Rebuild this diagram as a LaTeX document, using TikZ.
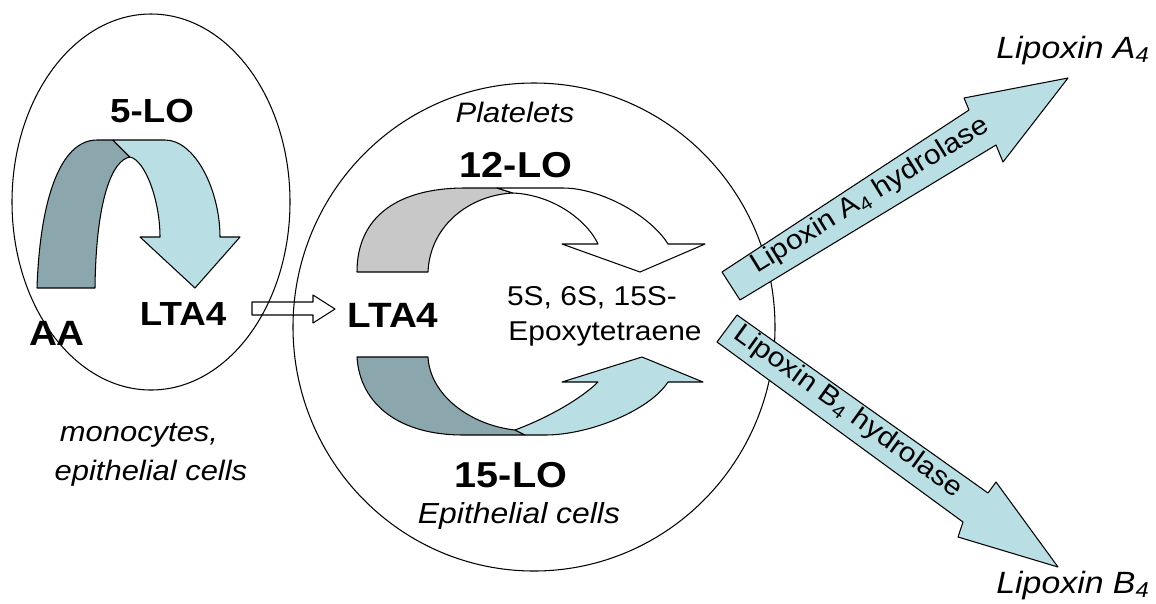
\documentclass[tikz,border=0pt]{standalone}
\usepackage{fontspec}
\setmainfont[FakeStretch=1.1]{Liberation Sans}
\usepackage{tikz}
\usetikzlibrary{positioning}

\definecolor{loDark}{RGB}{139,167,173}
\definecolor{loLight}{RGB}{185,223,228}
\definecolor{loGray}{RGB}{200,200,200}
\newcommand{\txtsize}[1]{\fontsize{#1}{#1}\selectfont}

\tikzset{
  outline/.style={draw=black, line width=0.6pt, line join=round},
  lbl/.style={inner sep=0pt, anchor=base},
  enzyme/.style={lbl, font=\txtsize{20pt}\bfseries},
  celltxt/.style={lbl, font=\txtsize{16pt}\itshape},
  product/.style={lbl, font=\txtsize{17.5pt}\itshape},
  hydro/.style={inner sep=0pt, font=\txtsize{15.5pt}}
}

\begin{document}
\begin{tikzpicture}[x=0.02cm, y=-0.02cm]
\useasboundingbox (0,0) rectangle (1156,603);

% hollow arrow LTA4 -> LTA4
\draw[outline, fill=white] (252,302) -- (313,302) -- (313,295) -- (335,309)
  -- (313,323) -- (313,315) -- (252,315) -- cycle;

% cell outlines
\draw[outline] (151,202) ellipse [x radius=139, y radius=188];
\draw[outline] (534,327) ellipse [x radius=241, y radius=244];

% 5-LO curved arrow
\draw[outline, fill=loDark] (37,288) .. controls (40,200) and (60,140) .. (97,140)
  -- (113,140) -- (130,157) .. controls (112,160) and (96,200) .. (95,288) -- cycle;
\draw[outline, fill=loLight] (113,140) -- (165,140) .. controls (195,140) and (220,190) .. (220,237)
  -- (240,237) -- (195,288) -- (140,237) -- (160,237)
  .. controls (160,200) and (145,160) .. (130,157) -- cycle;

% 12-LO curved arrow
\draw[outline, fill=loGray] (357,272) .. controls (357,215) and (400,188) .. (465,188)
  -- (497,188) -- (513,193) .. controls (470,195) and (430,225) .. (428,272) -- cycle;
\draw[outline, fill=white] (497,188) -- (563,188) .. controls (600,188) and (650,215) .. (668,244)
  -- (705,244) -- (640,272) -- (562,244) -- (598,244)
  .. controls (588,222) and (555,195) .. (513,193) -- cycle;

% 15-LO curved arrow
\draw[outline, fill=loDark] (357,357) .. controls (360,405) and (400,435) .. (463,435)
  -- (525,435) -- (515,430) .. controls (470,425) and (430,395) .. (428,357) -- cycle;
\draw[outline, fill=loLight] (525,435) -- (545,435) .. controls (590,435) and (650,410) .. (668,382)
  -- (703,382) -- (642,357) -- (562,382) -- (598,382)
  .. controls (585,395) and (555,415) .. (515,430) -- cycle;

% hydrolase arrows
\draw[outline, fill=loLight] (722,272) -- (969,110) -- (964,98) -- (1068,78)
  -- (1003,162) -- (996,145) -- (740,300) -- cycle;
\draw[outline, fill=loLight] (737,315) -- (988,493) -- (996,482) -- (1058,567)
  -- (958,537) -- (963,522) -- (717,342) -- cycle;

% labels
\node[enzyme, font=\txtsize{19pt}\bfseries] (lo5) at (152,122) {5-LO};
\node[enzyme] (aa) at (57,345) {AA};
\node[enzyme, font=\txtsize{19pt}\bfseries] (ltaA) at (183,325) {LTA4};
\node[celltxt] (mono) at (139,441) {monocytes,};
\node[celltxt] (epiA) at (151,480) {epithelial cells};

\node[celltxt] (plt) at (515,122) {Platelets};
\node[enzyme, font=\txtsize{20.5pt}\bfseries] (lo12) at (516,177) {12-LO};
\node[enzyme] (ltaB) at (393,327) {LTA4};
\node[lbl, font=\txtsize{15.5pt}] (epoxA) at (592,305) {5S, 6S, 15S-};
\node[lbl, font=\txtsize{15.5pt}] (epoxB) at (605,340) {Epoxytetraene};
\node[enzyme, font=\txtsize{20.5pt}\bfseries] (lo15) at (511,487) {15-LO};
\node[celltxt, font=\txtsize{16.5pt}\itshape] (epiB) at (519,523) {Epithelial cells};

\node[hydro, rotate=31.7] (hydA) at (870,196) {Lipoxin A\textsubscript{4} hydrolase};
\node[hydro, rotate=-35.8] (hydB) at (848,412) {Lipoxin B\textsubscript{4} hydrolase};
\node[product] (lxa) at (1073,58) {Lipoxin A\textsubscript{4}};
\node[product] (lxb) at (1073,593) {Lipoxin B\textsubscript{4}};
\end{tikzpicture}
\end{document}
